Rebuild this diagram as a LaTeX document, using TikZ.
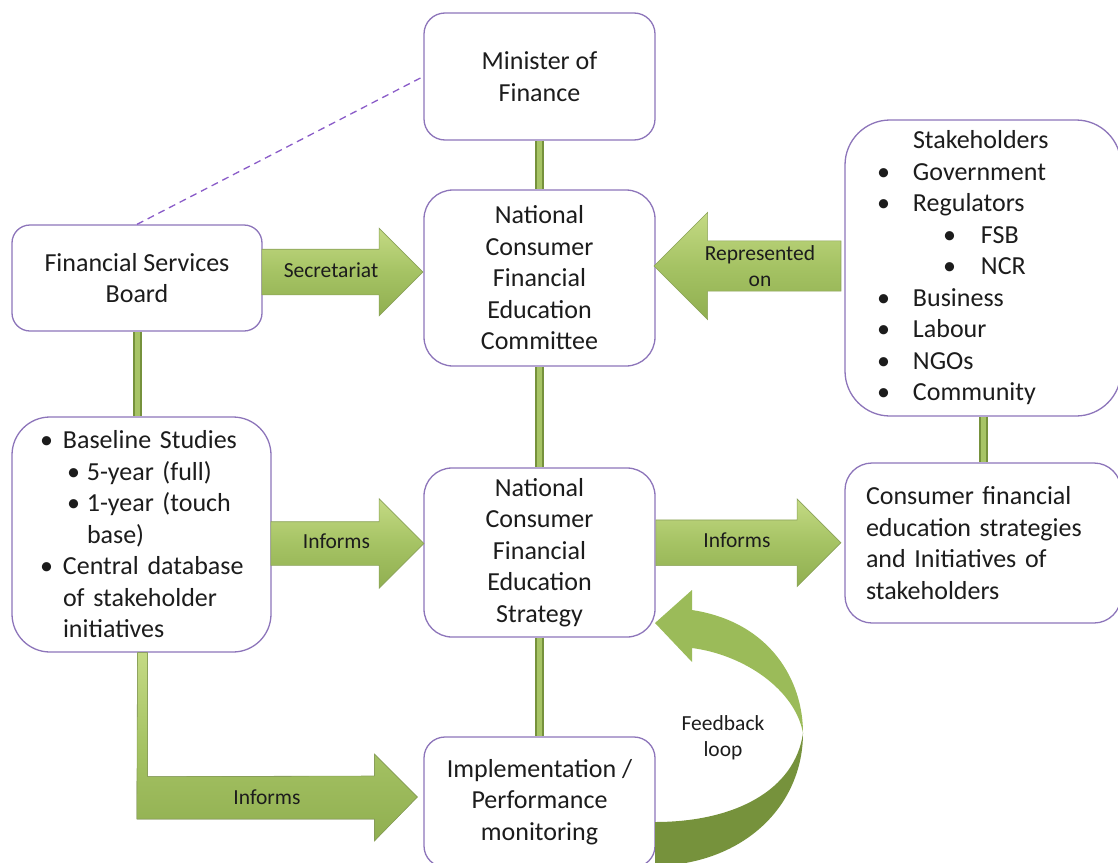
\documentclass[tikz,border=0pt]{standalone}
\usepackage{fontspec}
\setmainfont{Carlito}
\usetikzlibrary{shapes.arrows,calc,positioning}

\definecolor{boxpurple}{RGB}{141,117,186}
\definecolor{dashpurple}{RGB}{138,92,200}
\definecolor{lightgreen}{RGB}{196,218,132}
\definecolor{midgreen}{RGB}{155,187,89}
\definecolor{darkgreen}{RGB}{118,146,60}
\definecolor{textgray}{RGB}{28,28,28}

\tikzset{
  box/.style={draw=boxpurple, line width=1.3pt, fill=white, rounded corners=#1,
              align=center, inner sep=0pt, text=textgray,
              font=\fontsize{26}{31.5}\selectfont},
  box/.default=20pt,
  bar/.style={draw=darkgreen, line width=2pt, double=midgreen!70!lightgreen,
              double distance=5pt},
  blockarr/.style={single arrow, single arrow head extend=#1, draw=darkgreen!85,
                   line width=0.6pt, top color=lightgreen, bottom color=midgreen!70!darkgreen,
                   middle color=midgreen!75!lightgreen, inner xsep=0pt, text=textgray,
                   align=center, font=\fontsize{21.5}{26.5}\selectfont},
  dashline/.style={draw=dashpurple, line width=1.3pt, dash pattern=on 7pt off 5pt}
}

\begin{document}
\begin{tikzpicture}[x=1pt,y=-1pt]
  \useasboundingbox (0,0) rectangle (1118,862);

  % the boxes
  \node[box=21pt, minimum width=231pt, minimum height=127pt] (mof) at (539.5,76.5) {Minister of\\Finance};
  \node[box=29pt, minimum width=231pt, minimum height=176pt] (cttee) at (539.5,278) {National\\Consumer\\Financial\\Education\\Committee};
  \node[box=18pt, minimum width=250pt, minimum height=106pt] (fsb) at (137,278) {Financial Services\\Board};
  \node[box=38pt, minimum width=259pt, minimum height=235pt, text width=203pt,
        inner xsep=28pt, align=left] (base) at (141.5,534.5) {%
    \mbox{\makebox[23pt][l]{\textbullet}Baseline Studies}\\
    \mbox{\hspace*{27pt}\makebox[20pt][l]{\textbullet}5-year (full)}\\
    \mbox{\hspace*{27pt}\makebox[20pt][l]{\textbullet}1-year (touch}\\
    \mbox{\hspace*{47pt}base)}\\
    \mbox{\makebox[23pt][l]{\textbullet}Central database}\\
    \mbox{\hspace*{23pt}of stakeholder}\\
    \mbox{\hspace*{23pt}initiatives}};
  \node[box=28pt, minimum width=231pt, minimum height=169pt] (strat) at (539.5,552.5) {National\\Consumer\\Financial\\Education\\Strategy};
  \node[box=21pt, minimum width=231pt, minimum height=130pt] (impl) at (539.5,802) {Implementation /\\Performance\\monitoring};
  \node[box=45pt, minimum width=276pt, minimum height=296pt, text width=212pt,
        inner xsep=32pt, align=left] (stake) at (983,268) {%
    \mbox{\hspace*{36pt}Stakeholders}\\
    \mbox{\makebox[36pt][l]{\textbullet}Government}\\
    \mbox{\makebox[36pt][l]{\textbullet}Regulators}\\
    \mbox{\hspace*{66pt}\makebox[38pt][l]{\textbullet}FSB}\\
    \mbox{\hspace*{66pt}\makebox[38pt][l]{\textbullet}NCR}\\
    \mbox{\makebox[36pt][l]{\textbullet}Business}\\
    \mbox{\makebox[36pt][l]{\textbullet}Labour}\\
    \mbox{\makebox[36pt][l]{\textbullet}NGOs}\\
    \mbox{\makebox[36pt][l]{\textbullet}Community}};
  \node[box=27pt, minimum width=276pt, minimum height=160pt, text width=234pt,
        inner xsep=21pt, align=left] (cons) at (983,543) {%
    \mbox{Consumer financial}\\
    \mbox{education strategies}\\
    \mbox{and Initiatives of}\\
    \mbox{stakeholders}};

  % green bars between the boxes
  \draw[bar] (mof.south) -- (cttee.north);
  \draw[bar] (cttee.south) -- (strat.north);
  \draw[bar] (strat.south) -- (impl.north);
  \draw[bar] (fsb.south) -- (fsb.south |- base.north);
  \draw[bar] (stake.south) -- (cons.north);

  % dashed link
  \draw[dashline] (fsb.north) -- (mof.west);

  % block arrows
  \node[blockarr=21pt, minimum height=161pt, text height=14pt, text depth=4pt,
        inner ysep=13.5pt] (secr) at ($(fsb.east)!0.5!(cttee.west)+(-12,-6)$) {Secretariat};
  \node[blockarr=28.5pt, minimum height=187pt, shape border rotate=180,
        inner ysep=4pt] (repr) at ($(cttee.east)!0.5!(stake.west)+(10,-7)$) {Represented\\on};
  \node[blockarr=23pt, minimum height=153pt, text height=14pt, text depth=4pt,
        inner ysep=12.5pt] (inf1) at ($(base.east)!0.5!(strat.west)+(-11,0)$) {Informs};
  \node[blockarr=21pt, minimum height=185pt, text height=14pt, text depth=4pt,
        inner ysep=13.5pt] (inf2) at ($(strat.east)!0.5!(cons.west)+(-13,-5)$) {Informs};

  % bent arrow to the implementation box
  \coordinate (bendA) at ($(base.south)+(-4,0)$);
  \coordinate (bendtip) at ($(impl.west)+(-6,-5)$);
  \fill[top color=lightgreen, bottom color=midgreen!70!darkgreen,
        middle color=midgreen!75!lightgreen, draw=darkgreen!85, line width=0.6pt]
    (bendA) -- ++(10,0) -- ++(0,124) -- ($(bendtip)+(-43,-21)$) -- ++(0,-22)
    -- (bendtip) -- ++(-43,44) -- ++(0,-22) -- ++(-237.5,0) -- cycle;
  \node[font=\fontsize{21.5}{26.5}\selectfont, text=textgray] (inf3) at (267,797) {Informs};

  % feedback loop
  \fill[darkgreen] (655,866) .. controls (745,864) and (803,805) .. (803,733)
    .. controls (795,790) and (735,822) .. (655,822) -- cycle;
  \fill[midgreen] (803,733) .. controls (803,680) and (770,622) .. (692,610)
    -- (692,590) -- (655,623) -- (692,662) -- (692,648)
    .. controls (745,655) and (795,690) .. (803,733) -- cycle;
  \node[align=center, font=\fontsize{21.5}{26.5}\selectfont, text=textgray] (fbl) at (723,738) {Feedback\\loop};
\end{tikzpicture}
\end{document}
